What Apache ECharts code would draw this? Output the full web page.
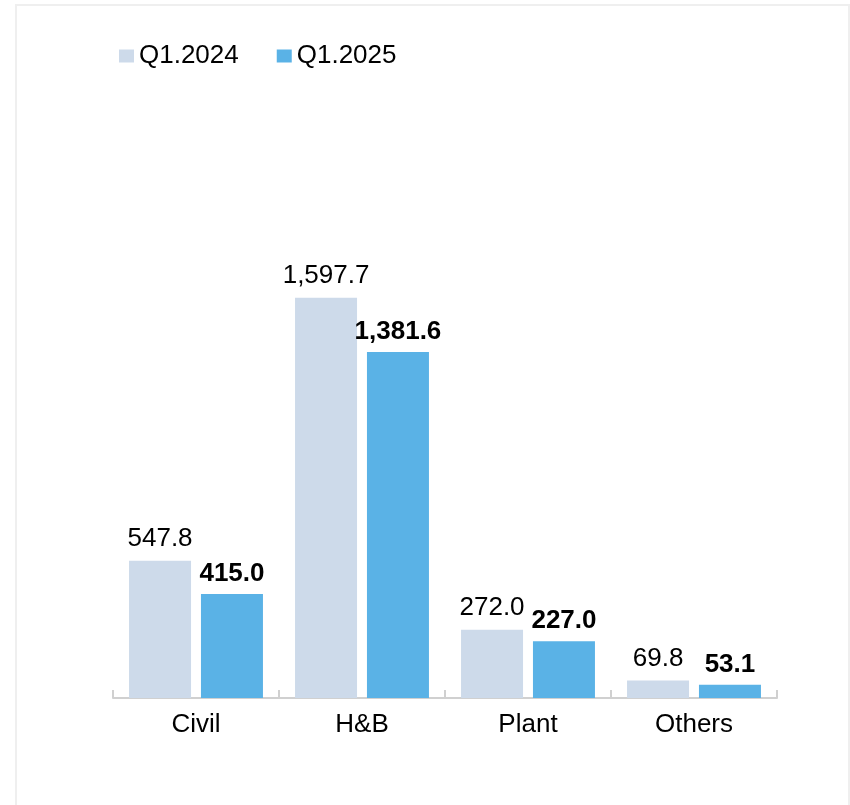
<!DOCTYPE html>
<html>
<head>
<meta charset="utf-8">
<title>Revenue by segment</title>
<script src="https://cdn.jsdelivr.net/npm/echarts@6/dist/echarts.min.js"></script>
<style>
  html, body { margin: 0; padding: 0; background: #ffffff; }
  #chart { width: 850px; height: 805px; }
</style>
</head>
<body>
<div id="chart"></div>
<script>
// Segment categories and quarterly values
const categories = ['Civil', 'H&B', 'Plant', 'Others'];
const seriesNames = ['Q1.2024', 'Q1.2025'];
const q1_2024 = [547.8, 1597.7, 272.0, 69.8];
const q1_2025 = [415.0, 1381.6, 227.0, 53.1];

const FONT = '"Liberation Sans", Arial, Helvetica, sans-serif';
const FS = 26;
const fmt = v => v.toLocaleString('en-US', { minimumFractionDigits: 1, maximumFractionDigits: 1 });

const chart = echarts.init(document.getElementById('chart'), null, { renderer: 'canvas' });

chart.setOption({
  backgroundColor: '#ffffff',
  animation: false,
  textStyle: { fontFamily: FONT },
  graphic: [{
    type: 'rect',
    shape: { x: 16, y: 5, width: 833, height: 900 },
    style: { fill: 'none', stroke: '#efefef', lineWidth: 2 },
    silent: true
  }],
  legend: {
    left: 114,
    top: 38,
    itemWidth: 15,
    itemHeight: 13,
    itemGap: 38,
    icon: 'rect',
    textStyle: { fontSize: FS, color: '#000', fontFamily: FONT },
    data: seriesNames
  },
  grid: { left: 113, right: 73, top: 197, bottom: 107, containLabel: false },
  xAxis: {
    type: 'category',
    data: categories,
    axisLine: { lineStyle: { color: '#d0d0d0', width: 2 } },
    axisTick: { show: true, inside: true, length: 8, lineStyle: { color: '#d0d0d0', width: 2 } },
    axisLabel: { fontSize: FS, color: '#000', fontFamily: FONT, margin: 14 }
  },
  yAxis: {
    type: 'value',
    min: 0,
    max: 2000,
    show: false,
    splitLine: { show: false }
  },
  series: [
    {
      name: seriesNames[0],
      type: 'bar',
      data: q1_2024,
      barWidth: 62,
      barGap: '16%',
      itemStyle: { color: '#cddaea' },
      label: {
        show: true,
        position: 'top',
        distance: 9,
        fontSize: FS,
        color: '#000',
        fontFamily: FONT,
        formatter: p => fmt(p.value)
      }
    },
    {
      name: seriesNames[1],
      type: 'bar',
      data: q1_2025,
      barWidth: 62,
      itemStyle: { color: '#5ab2e6' },
      label: {
        show: true,
        position: 'top',
        distance: 7,
        fontSize: FS,
        fontWeight: 'bold',
        color: '#000',
        fontFamily: FONT,
        formatter: p => fmt(p.value)
      }
    }
  ]
});
</script>
</body>
</html>
